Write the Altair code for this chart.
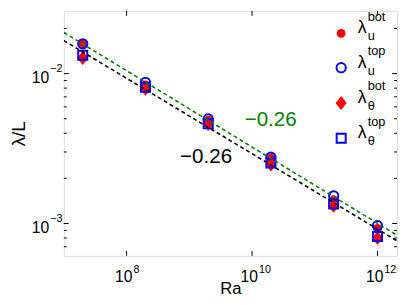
import altair as alt
import pandas as pd

# ---------------- data ----------------
ra = [2e7, 2e8, 2e9, 2e10, 2e11, 1e12]
lam_u_bot = [0.0158, 0.0084, 0.0049, 0.00274, 0.00144, 0.000927]
lam_u_top = [0.0158, 0.00873, 0.00498, 0.00277, 0.00153, 0.000966]
lam_t_bot = [0.0127, 0.0079, 0.0046, 0.00247, 0.00131, 0.00080]
lam_t_top = [0.01325, 0.0081, 0.00462, 0.00253, 0.00135, 0.000818]

fit_ra = [1e7, 2.05e12]
fit_green = [0.0188, 0.000835]
fit_black = [0.0166, 0.000766]

ann_ra = [1.98e10, 1.85e9]
ann_lam = [0.00444, 0.00254]
ann_text = ["\u22120.26", "\u22120.26"]

x_tick_vals = [1e8, 1e10, 1e12]
x_tick_exp = ["8", "10", "12"]
y_tick_vals = [1e-2, 1e-3]
y_tick_exp = ["\u22122", "\u22123"]
y_minor_vals = [7e-4, 8e-4, 9e-4, 2e-3, 3e-3, 4e-3, 5e-3, 6e-3, 7e-3, 8e-3, 9e-3, 2e-2]

legend_sup = ["bot", "top", "bot", "top"]
legend_sub = ["u", "u", "\u03b8", "\u03b8"]

# ---------------- layout / style ----------------
W, H = 340, 250
FONT = "Liberation Sans"
GREEN = "#008000"
xdom = [1e7, 2.05e12]
ydom = [6.08e-4, 0.0262]

xscale = alt.Scale(type="log", domain=xdom, nice=False, zero=False)
yscale = alt.Scale(type="log", domain=ydom, nice=False, zero=False)
xaxis = alt.Axis(labels=False, ticks=False, domain=False, grid=False,
                 titleFontSize=17, titleFont=FONT, titleFontWeight="normal",
                 titleColor="black", titleBaseline="alphabetic", titleY=38)
yaxis = alt.Axis(labels=False, ticks=False, domain=False, grid=False,
                 titleFontSize=19, titleFont=FONT, titleFontWeight="normal",
                 titleColor="black", titleBaseline="middle", titleAlign="center",
                 titleAngle=270, titleX=-46, titleY=125)


def X(f):
    return alt.X(f"{f}:Q", scale=xscale, axis=xaxis, title="Ra")


def Y(f):
    return alt.Y(f"{f}:Q", scale=yscale, axis=yaxis, title="\u03bb/L")


df = pd.DataFrame({"Ra": ra, "ub": lam_u_bot, "ut": lam_u_top, "tb": lam_t_bot, "tt": lam_t_top})

DIAMOND = "M0,-1L0.8,0L0,1L-0.8,0Z"
sym_specs = [
    dict(shape="circle", filled=True, fill="red", strokeWidth=0, size=80),
    dict(shape="circle", filled=False, stroke="blue", strokeWidth=2, size=90),
    dict(shape=DIAMOND, filled=True, fill="red", strokeWidth=0, size=200),
    dict(shape="square", filled=False, stroke="blue", strokeWidth=2, size=85),
]

point_layers = [
    alt.Chart(df).mark_point(opacity=1, **spec).encode(x=X("Ra"), y=Y(col))
    for spec, col in zip(sym_specs, ["ub", "ut", "tb", "tt"])
]

fit_df = pd.DataFrame({"Ra": fit_ra, "green": fit_green, "black": fit_black})
l_green = alt.Chart(fit_df).mark_line(color=GREEN, strokeDash=[4, 3], strokeWidth=1.6,
                                      clip=True).encode(x=X("Ra"), y=Y("green"))
l_black = alt.Chart(fit_df).mark_line(color="black", strokeDash=[4, 3], strokeWidth=1.6,
                                      clip=True).encode(x=X("Ra"), y=Y("black"))

ann_layers = []
for a_x, a_y, a_t, col in zip(ann_ra, ann_lam, ann_text, [GREEN, "black"]):
    ann_layers.append(
        alt.Chart(pd.DataFrame({"Ra": [a_x], "lam": [a_y], "t": [a_t]}))
        .mark_text(fontSize=21, font=FONT, color=col, align="center", baseline="alphabetic")
        .encode(x=X("Ra"), y=Y("lam"), text="t:N")
    )

# ---------------- inward ticks on all four sides ----------------
tick_layers = []
xt_df = pd.DataFrame({"Ra": x_tick_vals, "e": x_tick_exp})
tick_layers.append(alt.Chart(xt_df).mark_rule(color="black", strokeWidth=1).encode(
    x=X("Ra"), y=alt.value(H), y2=alt.value(H - 5)))
tick_layers.append(alt.Chart(xt_df).mark_rule(color="black", strokeWidth=1).encode(
    x=X("Ra"), y=alt.value(0), y2=alt.value(5)))
for vals, ln in [(y_tick_vals, 5), (y_minor_vals, 3)]:
    yt_df = pd.DataFrame({"lam": vals})
    tick_layers.append(alt.Chart(yt_df).mark_rule(color="black", strokeWidth=1).encode(
        y=Y("lam"), x=alt.value(0), x2=alt.value(ln)))
    tick_layers.append(alt.Chart(yt_df).mark_rule(color="black", strokeWidth=1).encode(
        y=Y("lam"), x=alt.value(W), x2=alt.value(W - ln)))

# ---------------- tick labels as 10 + superscript ----------------
label_layers = [
    alt.Chart(xt_df).mark_text(text="10", fontSize=16, font=FONT, color="black",
                               align="right", baseline="alphabetic", dx=6).encode(
        x=X("Ra"), y=alt.value(H + 27)),
    alt.Chart(xt_df).mark_text(fontSize=11, font=FONT, color="black",
                               align="left", baseline="alphabetic", dx=7).encode(
        x=X("Ra"), y=alt.value(H + 17), text="e:N"),
]
yl_df = pd.DataFrame({"lam": y_tick_vals, "e": y_tick_exp})
label_layers += [
    alt.Chart(yl_df).mark_text(text="10", fontSize=16, font=FONT, color="black",
                               align="right", baseline="alphabetic", dy=10).encode(
        x=alt.value(-15), y=Y("lam")),
    alt.Chart(yl_df).mark_text(fontSize=11, font=FONT, color="black",
                               align="left", baseline="alphabetic", dy=-2).encode(
        x=alt.value(-14), y=Y("lam"), text="e:N"),
]

# ---------------- hand-built legend (sup/subscripts) ----------------
leg_rows_y = [23, 58, 94, 130]
leg_sym_x, leg_lam_x, leg_ss_x = 283, 300, 310
one = pd.DataFrame({"k": [0]})
leg_layers = []
for yy, spec, sup, sub in zip(leg_rows_y, sym_specs, legend_sup, legend_sub):
    leg_layers.append(alt.Chart(one).mark_point(opacity=1, **spec).encode(
        x=alt.value(leg_sym_x), y=alt.value(yy)))
    leg_layers.append(alt.Chart(one).mark_text(
        text="\u03bb", fontSize=18, font=FONT, color="black", align="left",
        baseline="alphabetic").encode(x=alt.value(leg_lam_x), y=alt.value(yy)))
    leg_layers.append(alt.Chart(one).mark_text(
        text=sup, fontSize=13, font=FONT, color="black", align="left",
        baseline="alphabetic").encode(x=alt.value(leg_ss_x), y=alt.value(yy - 13)))
    leg_layers.append(alt.Chart(one).mark_text(
        text=sub, fontSize=13, font=FONT, color="black", align="left",
        baseline="alphabetic").encode(x=alt.value(leg_ss_x), y=alt.value(yy + 7)))

chart = alt.layer(
    *tick_layers, *label_layers, *point_layers, l_green, l_black, *ann_layers, *leg_layers
).properties(
    width=W, height=H,
    autosize=alt.AutoSizeParams(type="none"),
    padding={"left": 57, "top": 0, "right": 2, "bottom": 39},
).configure_view(stroke="black", strokeWidth=1.5).configure(background="white")

chart.save("out.html", embed_options={"renderer": "svg", "actions": False})
